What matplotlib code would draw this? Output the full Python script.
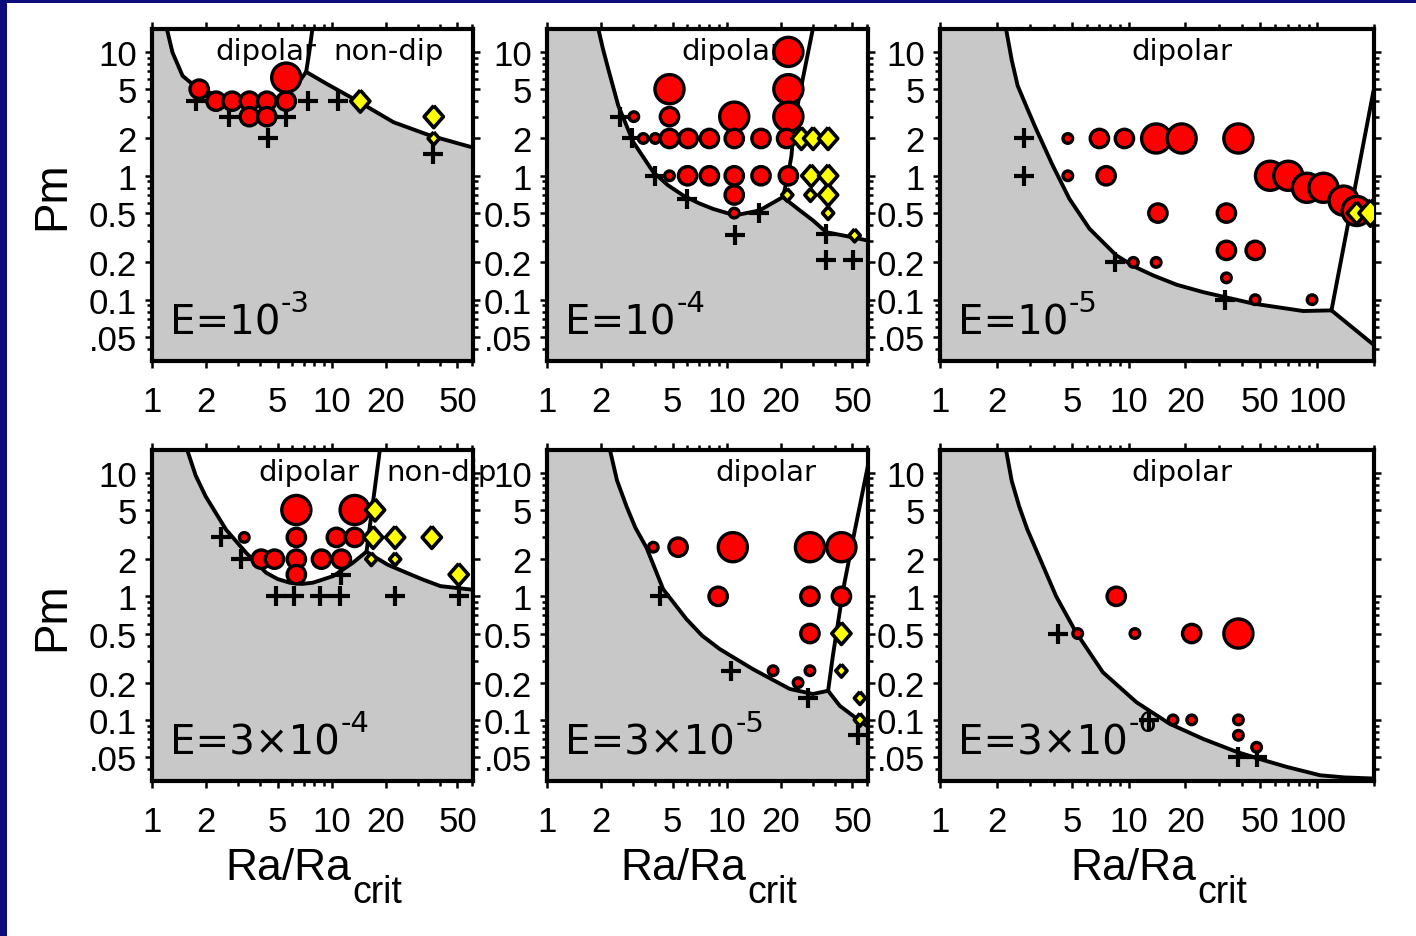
import matplotlib.pyplot as plt
from matplotlib.patches import Rectangle
from matplotlib.ticker import FixedLocator, NullFormatter
from matplotlib.transforms import offset_copy

plt.rcParams['font.family'] = ['Liberation Sans', 'DejaVu Sans']

# ---- data (Ra/Ra_crit, Pm, marker size class) ----
PM_TOP = 15.3
PM_BOTTOM = 0.032

# E = 1e-3
a_dip_x = [1.83, 2.27, 2.79, 3.48, 4.35, 5.58, 3.48, 4.35, 5.58]
a_dip_pm = [5, 4, 4, 4, 4, 4, 3, 3, 6.2]
a_dip_size = [2, 2, 2, 2, 2, 2, 2, 2, 3]
a_nd_x = [14.4, 36.9, 36.9]
a_nd_pm = [4, 3, 2]
a_nd_size = [2, 2, 1]
a_fail_x = [1.75, 2.69, 4.39, 5.58, 7.35, 10.8, 36.7]
a_fail_pm = [4, 3, 2, 3, 4, 4, 1.5]
a_low_x = [1.21, 1.30, 1.48, 1.68, 2.0, 2.5, 3.0, 3.6, 4.3, 5.0, 5.8, 6.5, 7.2,
           9.35, 13.75, 22.0, 35.3, 61]
a_low_pm = [PM_TOP, 9.9, 6.4, 5.5, 4.8, 4.3, 4.0, 3.9, 4.0, 4.3, 4.9, 5.6, 6.9,
            5.53, 4.05, 2.71, 2.11, 1.69]
a_div_x = [7.2, 7.5, 7.8]
a_div_pm = [6.9, 10, PM_TOP]

# E = 1e-4
b_dip_x = [22, 4.8, 22, 11, 22, 4.8, 3.04, 3.43, 4.0, 4.8, 6.1, 8.0, 11, 15.5, 21.5,
           4.8, 6.05, 8.0, 11, 15.5, 22, 11, 11]
b_dip_pm = [10, 5, 5, 3, 3, 3, 3, 2, 2, 2, 2, 2, 2, 2, 2,
            1, 1, 1, 1, 1, 1, 0.7, 0.5]
b_dip_size = [3, 3, 3, 3, 3, 2, 1, 1, 1, 2, 2, 2, 2, 2, 2,
              1, 2, 2, 2, 2, 2, 2, 1]
b_nd_x = [26, 30.2, 36.6, 29.5, 36.6, 29.2, 36.6, 36.6, 21.7, 51.4]
b_nd_pm = [2, 2, 2, 1, 1, 0.7, 0.7, 0.5, 0.7, 0.33]
b_nd_size = [2, 2, 2, 2, 2, 1, 2, 1, 1, 1]
b_fail_x = [2.55, 2.96, 3.98, 5.97, 11.1, 15.2, 35.8, 35.8, 50.3]
b_fail_pm = [3, 2, 1, 0.65, 0.33, 0.5, 0.34, 0.21, 0.21]
b_low_x = [1.93, 2.05, 2.19, 2.49, 3.02, 3.9, 4.7, 5.72, 7.0, 8.4, 11.1, 15.2, 20.5,
           25.5, 30.1, 35.8, 46.3, 61]
b_low_pm = [PM_TOP, 10.5, 7.3, 3.69, 1.87, 1.07, 0.84, 0.694, 0.6, 0.54, 0.479, 0.525, 0.673,
            0.525, 0.437, 0.35, 0.326, 0.30]
b_div_x = [20.5, 21.9, 22.9, 23.5, 25, 27.5, 30.1]
b_div_pm = [0.673, 1.0, 1.46, 2.3, 4, 8, PM_TOP]

# E = 1e-5
c_dip_x = [4.76, 7.0, 9.5, 14.0, 19.1, 38.2, 4.76, 7.6, 14.3, 33, 33, 46.9, 33,
           10.6, 14.0, 46.9, 93.9, 56.2, 70.2, 88.2, 107.9, 138, 162]
c_dip_pm = [2, 2, 2, 2, 2, 2, 1, 1, 0.5, 0.5, 0.25, 0.25, 0.15,
            0.2, 0.2, 0.1, 0.1, 1.0, 1.0, 0.8, 0.8, 0.63, 0.52]
c_dip_size = [1, 2, 2, 3, 3, 3, 1, 2, 2, 2, 2, 2, 1,
              1, 1, 1, 1, 3, 3, 3, 3, 3, 3]
c_nd_x = [162, 191.5]
c_nd_pm = [0.5, 0.5]
c_nd_size = [2, 3]
c_fail_x = [2.8, 2.8, 8.43, 32.4]
c_fail_pm = [2, 1, 0.2, 0.1]
c_low_x = [2.24, 2.4, 2.58, 2.9, 3.23, 3.96, 4.85, 6.2, 8.6, 10.8, 13.5, 18.0, 24.9,
           45.8, 84.2, 119, 200]
c_low_pm = [PM_TOP, 8.6, 5.34, 3.5, 2.39, 1.21, 0.653, 0.374, 0.228, 0.184, 0.157, 0.132,
            0.115, 0.093, 0.081, 0.082, 0.043]
c_div_x = [119, 198]
c_div_pm = [0.082, 4.7]

# E = 3e-4
d_dip_x = [6.35, 13.4, 6.35, 3.26, 4.05, 4.8, 6.35, 8.76, 11.3, 10.6, 13.4, 6.35]
d_dip_pm = [5, 5, 3, 3, 2, 2, 2, 2, 2, 3, 3, 1.5]
d_dip_size = [3, 3, 2, 1, 2, 2, 2, 2, 2, 2, 2, 2]
d_nd_x = [17.4, 17.0, 22.5, 36, 16.6, 22.5, 50.8]
d_nd_pm = [5, 3, 3, 3, 2, 2, 1.5]
d_nd_size = [2, 2, 2, 2, 1, 1, 2]
d_fail_x = [2.42, 3.13, 4.91, 6.2, 8.58, 11.1, 11.3, 22.5, 50.8]
d_fail_pm = [3, 2, 1, 1, 1, 1, 1.5, 1, 1]
d_low_x = [1.57, 1.75, 1.99, 2.58, 3.34, 4.32, 5.0, 5.83, 6.8, 7.86, 10.2, 13.1, 15.6,
           17.0, 20.5, 26.1, 32.0, 40.2, 61]
d_low_pm = [PM_TOP, 9.5, 6.43, 3.47, 2.25, 1.55, 1.38, 1.29, 1.26, 1.29, 1.46, 1.87, 2.3,
            2.12, 1.8, 1.55, 1.37, 1.21, 1.13]
d_div_x = [15.6, 18.5]
d_div_pm = [2.3, PM_TOP]

# E = 3e-5
e_dip_x = [3.9, 5.36, 10.8, 29, 43.4, 8.95, 29, 43.4, 29, 18.1, 29, 24.9]
e_dip_pm = [2.5, 2.5, 2.5, 2.5, 2.5, 1, 1, 1, 0.5, 0.25, 0.25, 0.2]
e_dip_size = [1, 2, 3, 3, 3, 2, 2, 2, 2, 1, 1, 1]
e_nd_x = [43.4, 43.4, 55, 55]
e_nd_pm = [0.5, 0.25, 0.15, 0.1]
e_nd_size = [2, 1, 1, 1]
e_fail_x = [4.25, 10.6, 28.3, 53.6]
e_fail_pm = [1, 0.25, 0.15, 0.075]
e_low_x = [2.24, 2.45, 2.77, 3.1, 3.58, 4.43, 5.97, 7.3, 9.14, 14.0, 22.4, 30.1, 36.6,
           42.5, 50.3, 61]
e_low_pm = [PM_TOP, 8.7, 5.34, 3.6, 2.47, 1.14, 0.653, 0.48, 0.374, 0.257, 0.178, 0.162,
            0.172, 0.13, 0.108, 0.088]
e_div_x = [36.6, 38.9, 44.4, 50.3, 61]
e_div_pm = [0.172, 0.33, 1.14, 2.87, 11.5]

# E = 3e-6
f_dip_x = [8.6, 5.37, 10.8, 21.6, 38.2, 17.2, 21.6, 38.2, 38.2, 47.7]
f_dip_pm = [1, 0.5, 0.5, 0.5, 0.5, 0.1, 0.1, 0.1, 0.075, 0.06]
f_dip_size = [2, 1, 1, 2, 3, 1, 1, 1, 1, 1]
f_nd_x = []
f_nd_pm = []
f_nd_size = []
f_fail_x = [4.21, 12.9, 38.2, 47.7]
f_fail_pm = [0.5, 0.1, 0.05, 0.05]
f_low_x = [2.24, 2.4, 2.63, 2.9, 3.23, 4.13, 5.27, 7.3, 11.0, 16.5, 24.9, 37.5, 50.0,
           68.6, 103.7, 140, 200]
f_low_pm = [PM_TOP, 8.6, 5.34, 3.5, 2.39, 1.0, 0.51, 0.243, 0.139, 0.093, 0.07, 0.055,
            0.048, 0.0417, 0.0356, 0.0342, 0.0335]
f_div_x = []
f_div_pm = []

e_mantissa = ['E=10', 'E=10', 'E=10', 'E=3\u00d710', 'E=3\u00d710', 'E=3\u00d710']
e_exponent = ['-3', '-4', '-5', '-4', '-5', '-6']
x_max = [61, 61, 200, 61, 61, 200]
x_tick_values = [1, 2, 5, 10, 20, 50, 100]
pm_tick_values = [0.05, 0.1, 0.2, 0.5, 1, 2, 5, 10]
pm_tick_labels = ['.05', '0.1', '0.2', '0.5', '1', '2', '5', '10']

# ---- styling ----
W, H = 1416, 937
GREY = '#c8c8c8'
NAVY = '#0c0c7c'
CIRCLE_S = {1: 48, 2: 175, 3: 440}
DIAMOND_S = {1: 85, 2: 250, 3: 360}
DIAMOND = [(0, 1), (0.88, 0), (0, -1), (-0.88, 0), (0, 1)]
TEXT_FONT = ['DejaVu Sans']
LINE_W = 2.8

fig = plt.figure(figsize=(W / 100, H / 100), dpi=100, facecolor=NAVY)
fig.patches.append(Rectangle((7 / W, 0), 1, 1 - 4 / H, transform=fig.transFigure,
                             facecolor='white', edgecolor='none', zorder=-10))

cols = [(152, 473), (547, 868), (940, 1374)]
rows = [(30, 362), (451, 782)]


def add_panel(row, col):
    left, right = cols[col]
    top, bottom = rows[row]
    return fig.add_axes([left / W, 1 - bottom / H, (right - left) / W, (bottom - top) / H])


def minor_ticks(lo, hi):
    vals = [m * 10.0 ** k for k in range(-2, 3) for m in range(1, 10)]
    return [v for v in vals if lo <= v <= hi]


def draw_panel(ax, xmax, low_x, low_pm, div_x, div_pm,
               dip_x, dip_pm, dip_size, nd_x, nd_pm, nd_size, fail_x, fail_pm,
               mantissa, exponent):
    ax.set_xscale('log')
    ax.set_yscale('log')
    ax.set_xlim(1, xmax)
    ax.set_ylim(PM_BOTTOM, PM_TOP)

    ax.fill_between([1] + low_x, [PM_TOP] + low_pm, PM_BOTTOM, color=GREY, lw=0, zorder=0.5)
    ax.plot(low_x, low_pm, color='k', lw=LINE_W, zorder=2, solid_joinstyle='round')
    if div_x:
        ax.plot(div_x, div_pm, color='k', lw=LINE_W, zorder=2, solid_joinstyle='round')

    ax.plot(fail_x, fail_pm, ls='none', marker='+', ms=15, mew=3, color='k', zorder=3)
    ax.scatter(dip_x, dip_pm, s=[CIRCLE_S[c] for c in dip_size], c='#ff0000',
               edgecolors='k', linewidths=2.4, zorder=4)
    if nd_x:
        ax.scatter(nd_x, nd_pm, s=[DIAMOND_S[c] for c in nd_size], marker=DIAMOND,
                   c='#ffff00', edgecolors='k', linewidths=2.6, zorder=5)

    # Ekman number label with a raised exponent
    base = ax.annotate(mantissa, xy=(0, 0), xycoords='axes fraction', xytext=(13, 19.5),
                       textcoords='offset points', fontsize=29, family=TEXT_FONT,
                       va='baseline', ha='left', zorder=6)
    ax.annotate(exponent, xy=(1, 1), xycoords=base, xytext=(0.5, -5.5),
                textcoords='offset points', fontsize=21, family=TEXT_FONT,
                va='baseline', ha='left', zorder=6)

    xt = [t for t in x_tick_values if t <= xmax]
    ax.xaxis.set_major_locator(FixedLocator(xt))
    ax.set_xticklabels([str(t) for t in xt])
    ax.xaxis.set_minor_locator(FixedLocator([v for v in minor_ticks(1, xmax) if v not in xt]))
    ax.xaxis.set_minor_formatter(NullFormatter())
    ax.yaxis.set_major_locator(FixedLocator(pm_tick_values))
    ax.set_yticklabels(pm_tick_labels)
    ax.yaxis.set_minor_locator(FixedLocator(
        [v for v in minor_ticks(PM_BOTTOM, PM_TOP) if v not in pm_tick_values]))
    ax.yaxis.set_minor_formatter(NullFormatter())

    ax.tick_params(which='both', direction='out', top=True, right=True,
                   width=1.8, labelsize=25, color='k')
    ax.tick_params(which='major', length=5)
    ax.tick_params(which='minor', length=3.5)
    ax.tick_params(axis='x', pad=12)
    ax.tick_params(axis='y', pad=6)
    for sp in ax.spines.values():
        sp.set_linewidth(3)


panels = [
    (a_low_x, a_low_pm, a_div_x, a_div_pm, a_dip_x, a_dip_pm, a_dip_size,
     a_nd_x, a_nd_pm, a_nd_size, a_fail_x, a_fail_pm),
    (b_low_x, b_low_pm, b_div_x, b_div_pm, b_dip_x, b_dip_pm, b_dip_size,
     b_nd_x, b_nd_pm, b_nd_size, b_fail_x, b_fail_pm),
    (c_low_x, c_low_pm, c_div_x, c_div_pm, c_dip_x, c_dip_pm, c_dip_size,
     c_nd_x, c_nd_pm, c_nd_size, c_fail_x, c_fail_pm),
    (d_low_x, d_low_pm, d_div_x, d_div_pm, d_dip_x, d_dip_pm, d_dip_size,
     d_nd_x, d_nd_pm, d_nd_size, d_fail_x, d_fail_pm),
    (e_low_x, e_low_pm, e_div_x, e_div_pm, e_dip_x, e_dip_pm, e_dip_size,
     e_nd_x, e_nd_pm, e_nd_size, e_fail_x, e_fail_pm),
    (f_low_x, f_low_pm, f_div_x, f_div_pm, f_dip_x, f_dip_pm, f_dip_size,
     f_nd_x, f_nd_pm, f_nd_size, f_fail_x, f_fail_pm),
]

# regime labels: (panel index, text, axes-fraction x)
regime_labels = [(0, 'dipolar', 0.196), (0, 'non-dip', 0.564), (1, 'dipolar', 0.42),
                 (2, 'dipolar', 0.442), (3, 'dipolar', 0.330), (3, 'non-dip', 0.729),
                 (4, 'dipolar', 0.526), (5, 'dipolar', 0.442)]

axes = []
for i, p in enumerate(panels):
    row, col = divmod(i, 3)
    ax = add_panel(row, col)
    draw_panel(ax, x_max[i], *p, e_mantissa[i], e_exponent[i])
    axes.append(ax)

for idx, txt, xf in regime_labels:
    axes[idx].text(xf, 0.934, txt, transform=axes[idx].transAxes, fontsize=21,
                   family=TEXT_FONT, va='center', ha='left', zorder=1.8, clip_on=False)

for row in range(2):
    axes[row * 3].set_ylabel('Pm', fontsize=33, labelpad=10)

# x label "Ra/Ra" with a deep "crit" subscript
for col in range(3):
    ax = axes[3 + col]
    lab = ax.set_xlabel('Ra/Ra', fontsize=32)
    ax.xaxis.set_label_coords(0.5, 0, transform=offset_copy(ax.transAxes, fig=fig,
                                                           x=-24, y=-66, units='dots'))
    lab.set_va('top')
    ax.annotate('crit', xy=(1, 0), xycoords=lab, xytext=(1, -10),
                textcoords='offset points', fontsize=27, va='baseline', ha='left')

fig.savefig('out.png', dpi=100, facecolor=fig.get_facecolor())
